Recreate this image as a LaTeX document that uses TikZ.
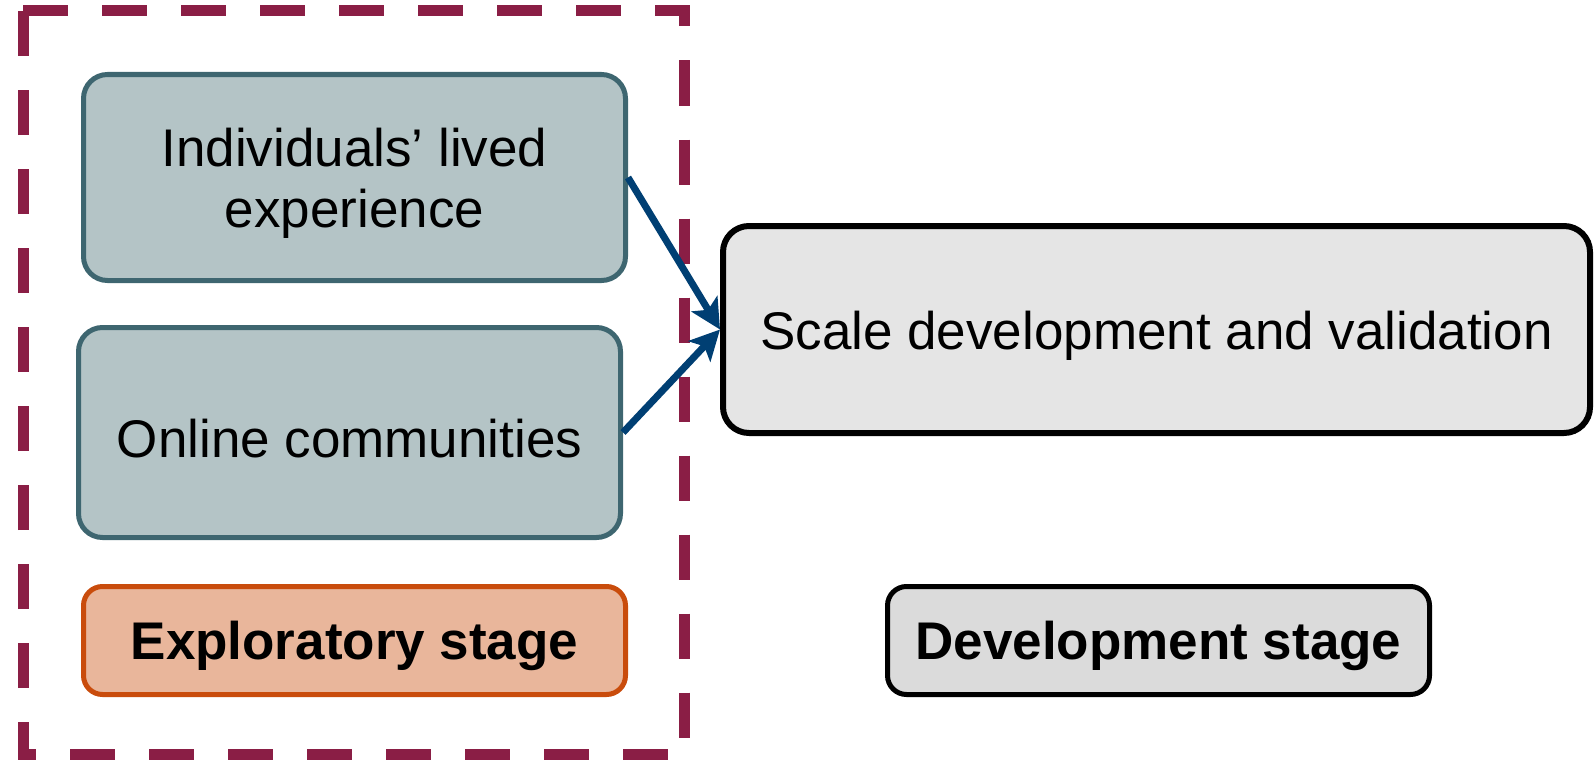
\documentclass[tikz,border=0pt]{standalone}
\usepackage{fontspec}
\setmainfont{Liberation Sans}
\usetikzlibrary{arrows.meta}
\definecolor{dashc}{HTML}{8A1E45}
\definecolor{tealfill}{HTML}{B4C4C6}
\definecolor{tealdraw}{HTML}{3E6670}
\definecolor{arrowc}{HTML}{003F73}
\definecolor{orfill}{HTML}{E9B69B}
\definecolor{ordraw}{HTML}{C94C0C}
\definecolor{bigfill}{HTML}{E5E5E5}
\definecolor{devfill}{HTML}{DBDBDB}
\tikzset{
  txt/.style={align=center, inner sep=0pt, yshift=-6pt, font=\fontsize{53}{61}\selectfont},
  boldtxt/.style={txt, yshift=1pt, font=\fontsize{53}{61}\selectfont\bfseries},
  srcbox/.style={draw=tealdraw, fill=tealfill, line width=5pt, rounded corners=24pt,
    minimum width=542pt, inner sep=0pt},
  bigbox/.style={draw=black, fill=bigfill, line width=6pt, rounded corners=26pt,
    minimum width=867pt, minimum height=207pt, inner sep=0pt},
  stagebox/.style={line width=5pt, rounded corners=19pt, minimum width=542pt,
    minimum height=108pt, inner sep=0pt},
  flow/.style={draw=arrowc, line width=7pt, -{Stealth[length=30pt,width=30pt,inset=7pt]}}
}
\begin{document}
\begin{tikzpicture}[x=1pt,y=-1pt]
\useasboundingbox (0,0) rectangle (1595,760);
\draw[dashc, line width=11pt, dash pattern=on 45pt off 34pt] (23,11) -- (684.5,11) -- (684.5,754.5) -- (23,754.5) -- cycle;
\node[srcbox, minimum height=206pt, label={[txt, name=t1]center:{Individuals’ lived\\experience}}] (b1) at (354.5,177.5) {};
\node[srcbox, minimum height=210pt, label={[txt, name=t2]center:Online communities}] (b2) at (349.5,432.5) {};
\node[bigbox, label={[txt, name=t3]center:Scale development and validation}] (big) at (1156.5,329.5) {};
\node[stagebox, draw=ordraw, fill=orfill, label={[boldtxt, name=t4]center:Exploratory stage}] (exp) at (354.5,640.5) {};
\node[stagebox, draw=black, fill=devfill, label={[boldtxt, name=t5]center:Development stage}] (dev) at (1158.5,640.5) {};
\draw[flow] (b1.east) -- (big.west);
\draw[flow] (b2.east) -- (big.west);
\end{tikzpicture}
\end{document}
